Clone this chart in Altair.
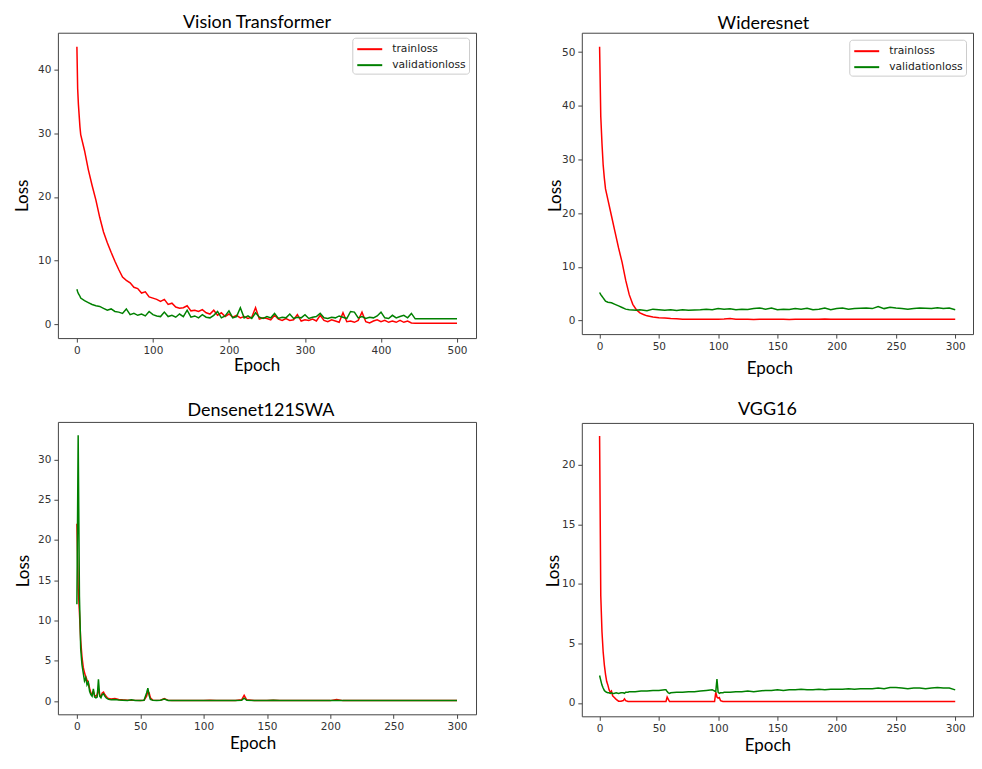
import altair as alt
import pandas as pd

SERIES = ["trainloss", "validationloss"]
COLORS = ["#ff0000", "#008000"]

# ---------------- Vision Transformer ----------------
VIT_EPOCHS = [0, 1, 2, 4] + list(range(5, 501, 5))
VIT_TRAIN = [
    43.6, 37.0, 34.5, 31.0,
    29.8, 27.3, 24.3, 21.8, 19.5, 16.8, 14.5, 12.8, 11.3, 9.9,
    8.6, 7.4, 6.9, 6.5, 5.8, 5.6, 4.9, 5.1, 4.3, 4.1,
    3.9, 3.6, 3.9, 3.1, 3.3, 2.7, 2.5, 2.6, 2.9, 2.1,
    2.2, 2.0, 2.3, 1.8, 1.6, 2.2, 1.4, 1.8, 1.2, 1.6,
    1.1, 1.4, 1.0, 1.2, 0.9, 1.1, 2.6, 0.8, 1.0, 0.9,
    0.7, 1.4, 0.8, 0.6, 0.9, 0.6, 0.7, 1.5, 0.5, 0.7,
    0.6, 0.8, 0.5, 1.4, 0.6, 0.4, 0.7, 0.5, 0.3, 1.8,
    0.4, 0.5, 0.3, 0.6, 1.9, 0.4, 0.2, 0.5, 0.7, 0.4,
    0.6, 0.3, 0.5, 0.3, 0.6, 0.3, 0.5, 0.2, 0.15, 0.15,
    0.15, 0.15, 0.15, 0.15, 0.15, 0.15, 0.15, 0.15, 0.15, 0.15,
]
VIT_VAL = [
    5.5, 5.1, 4.8, 4.4,
    4.1, 3.7, 3.4, 3.1, 2.9, 2.8, 2.5, 2.2, 2.4, 2.0,
    1.9, 1.7, 2.4, 1.5, 1.7, 1.4, 1.6, 1.3, 2.0, 1.5,
    1.3, 1.2, 1.9, 1.2, 1.4, 1.1, 1.6, 1.2, 2.2, 1.1,
    1.3, 1.0, 1.5, 1.1, 1.0, 1.4, 2.0, 1.0, 1.3, 2.1,
    1.0, 1.2, 2.6, 1.0, 1.3, 0.9, 1.8, 1.1, 0.9, 1.2,
    1.0, 1.7, 0.9, 1.1, 1.0, 1.6, 0.9, 1.1, 1.0, 1.5,
    0.9, 1.1, 1.2, 1.7, 1.0, 0.9, 1.1, 1.0, 1.3, 1.1,
    0.9, 2.0, 1.9, 1.0, 1.2, 0.9, 1.1, 1.0, 1.3, 1.9,
    1.0, 0.9, 1.4, 1.0, 1.2, 1.4, 1.0, 1.7, 0.85, 0.85,
    0.85, 0.85, 0.85, 0.85, 0.85, 0.85, 0.85, 0.85, 0.85, 0.85,
]

# ---------------- Wideresnet ----------------
WRN_EPOCHS = [0, 1, 2, 3, 4, 5, 7, 10, 13, 16, 19, 22, 25, 28, 31, 34, 37, 40] + list(range(45, 301, 5))
WRN_TRAIN = [
    51.0, 38.0, 33.0, 29.0, 26.5, 24.5, 22.5, 19.5, 16.5, 13.5, 10.8, 7.5, 4.8, 3.0, 2.0, 1.4, 1.1, 0.85,
    0.65, 0.5, 0.45, 0.35, 0.3, 0.22, 0.2, 0.2, 0.2, 0.2,
    0.2, 0.22, 0.25, 0.35, 0.22, 0.2, 0.2, 0.18, 0.2, 0.2,
    0.2, 0.22, 0.2, 0.18, 0.2, 0.2, 0.2, 0.2, 0.2, 0.25,
    0.22, 0.2, 0.2, 0.2, 0.2, 0.22, 0.2, 0.2, 0.2, 0.22,
    0.2, 0.2, 0.2, 0.22, 0.2, 0.2, 0.2, 0.2, 0.2, 0.2,
    0.2, 0.2,
]
WRN_VAL = [
    5.2, 4.8, 4.5, 4.2, 3.9, 3.6, 3.4, 3.3, 3.0, 2.7, 2.4, 2.1, 2.0, 1.95, 1.9, 2.0, 1.9, 1.8,
    2.1, 2.0, 1.9, 2.0, 1.85, 2.0, 1.9, 1.95, 2.0, 2.1,
    2.0, 2.2, 2.1, 2.15, 2.0, 2.1, 2.05, 2.2, 2.3, 2.1,
    2.3, 2.0, 2.1, 2.05, 2.2, 2.1, 2.25, 2.0, 2.1, 2.3,
    2.0, 2.2, 2.3, 2.1, 2.2, 2.25, 2.3, 2.2, 2.6, 2.2,
    2.45, 2.3, 2.2, 2.1, 2.2, 2.3, 2.25, 2.2, 2.35, 2.2,
    2.3, 2.0,
]

# ---------------- Densenet121SWA ----------------
DN_EPOCHS = (list(range(0, 26))
             + [27, 30, 33, 36, 40, 43, 46, 50, 53, 55, 56, 57, 58, 60, 63, 66, 69, 72, 75]
             + list(range(80, 126, 5)) + [130, 132, 134] + list(range(140, 301, 5)))
DN_TRAIN = [
    22.0, 14.0, 11.0, 7.5, 5.5, 4.2, 3.5, 3.0, 2.6, 2.3, 1.6, 1.0, 0.9, 1.2, 0.7, 0.6, 0.8, 1.5, 0.7, 0.6,
    1.0, 1.1, 0.8, 0.6, 0.4, 0.3,
    0.25, 0.3, 0.2, 0.15, 0.1, 0.1, 0.08, 0.07, 0.1, 0.6, 1.2, 1.0, 0.4, 0.1, 0.08, 0.1, 0.3, 0.08, 0.05,
    0.05, 0.05, 0.05, 0.05, 0.06, 0.1, 0.05, 0.05, 0.05, 0.05,
    0.15, 0.7, 0.15,
    0.05, 0.05, 0.05, 0.1, 0.05, 0.05, 0.05, 0.05, 0.05, 0.05, 0.05, 0.05, 0.05, 0.2, 0.05, 0.05, 0.05,
    0.05, 0.05, 0.05, 0.05, 0.05, 0.08, 0.05, 0.05, 0.05, 0.05, 0.05, 0.05, 0.05, 0.05, 0.05, 0.05,
]
DN_VAL = [
    12.0, 33.0, 13.0, 6.5, 4.5, 3.5, 2.5, 2.9, 2.0, 2.3, 1.2, 0.8, 0.6, 1.5, 0.5, 0.4, 0.5, 2.7, 0.6, 0.4,
    0.8, 0.9, 0.6, 0.4, 0.3, 0.2,
    0.15, 0.2, 0.12, 0.1, 0.08, 0.15, 0.06, 0.05, 0.1, 1.0, 1.6, 0.7, 0.2, 0.08, 0.06, 0.1, 0.25, 0.06, 0.05,
    0.05, 0.05, 0.05, 0.05, 0.05, 0.05, 0.05, 0.05, 0.05, 0.05,
    0.1, 0.35, 0.1,
    0.05, 0.05, 0.05, 0.1, 0.05, 0.05, 0.05, 0.05, 0.05, 0.05, 0.05, 0.05, 0.05, 0.05, 0.05, 0.05, 0.05,
    0.05, 0.05, 0.05, 0.05, 0.05, 0.05, 0.05, 0.05, 0.05, 0.05, 0.05, 0.05, 0.05, 0.05, 0.05, 0.05,
]

# ---------------- VGG16 ----------------
VGG_EPOCHS = (list(range(0, 13)) + [14, 16, 18, 20, 21, 22, 24] + list(range(25, 56, 5))
              + [56, 57, 58, 59] + list(range(60, 96, 5)) + [96, 97, 98, 99, 100, 101, 102, 104]
              + list(range(105, 301, 5)))
VGG_TRAIN = (
    [22.4, 9.0, 6.0, 4.3, 3.2, 2.4, 1.8, 1.5, 1.1, 0.9, 1.0, 0.6, 0.5]
    + [0.3, 0.15, 0.15, 0.2, 0.35, 0.2, 0.12]
    + [0.12, 0.12, 0.12, 0.12, 0.12, 0.12, 0.12]
    + [0.12, 0.5, 0.3, 0.12]
    + [0.12, 0.12, 0.12, 0.12, 0.12, 0.12, 0.12, 0.12]
    + [0.12, 0.12, 0.9, 0.5, 0.4, 0.45, 0.2, 0.12]
    + [0.12] * 40
)
VGG_VAL = (
    [2.3, 1.9, 1.5, 1.25, 1.05, 0.95, 0.9, 0.85, 0.85, 0.8, 0.85, 0.8, 0.8]
    + [0.85, 0.8, 0.85, 0.85, 0.8, 0.9, 0.9]
    + [0.95, 0.95, 1.0, 1.0, 1.05, 1.05, 1.1]
    + [1.1, 0.95, 0.85, 0.8]
    + [0.85, 0.9, 0.9, 0.95, 0.95, 1.0, 1.05, 1.1]
    + [1.05, 1.0, 0.95, 2.0, 0.9, 0.8, 0.85, 0.85]
    + [0.9, 0.9, 0.95, 0.95, 1.0, 0.95, 1.0, 1.05, 1.05, 1.1,
       1.05, 1.1, 1.1, 1.15, 1.1, 1.1, 1.15, 1.1, 1.15, 1.15,
       1.15, 1.2, 1.15, 1.2, 1.2, 1.2, 1.25, 1.2, 1.3, 1.3,
       1.25, 1.2, 1.25, 1.25, 1.2, 1.25, 1.3, 1.25, 1.25, 1.1]
)


def long_df(epochs, train, val):
    rows = [{"epoch": e, "loss": v, "series": "trainloss"} for e, v in zip(epochs, train)]
    rows += [{"epoch": e, "loss": v, "series": "validationloss"} for e, v in zip(epochs, val)]
    return pd.DataFrame(rows)


def panel(title, df, width, height, xdom, ydom, xticks, yticks,
          title_dx, title_offset, xt_x, xt_y, yt_x, yt_y, leg_x, leg_y):
    color = alt.Color(
        "series:N",
        scale=alt.Scale(domain=SERIES, range=COLORS),
        legend=alt.Legend(
            title=None, orient="none", legendX=leg_x, legendY=leg_y,
            symbolType="M-1.667,0L1.667,0", symbolSize=225, symbolStrokeWidth=2,
            symbolOffset=6, labelOffset=14,
            labelFont="DejaVu Sans", labelFontSize=10.75, labelColor="#222",
            strokeColor="#cccccc", fillColor="white", cornerRadius=3,
            padding=3, rowPadding=2,
        ),
    )
    x = alt.X("epoch:Q", scale=alt.Scale(domain=xdom, nice=False, zero=False),
              axis=alt.Axis(title="Epoch", values=xticks, titleX=xt_x, titleY=xt_y,
                            titleAlign="center", titleBaseline="alphabetic"))
    y = alt.Y("loss:Q", scale=alt.Scale(domain=ydom, nice=False, zero=False),
              axis=alt.Axis(title="Loss", values=yticks, titleX=yt_x, titleY=yt_y,
                            titleAngle=270, titleAlign="center", titleBaseline="alphabetic"))
    base = alt.Chart(df)
    tr = base.transform_filter(alt.datum.series == "trainloss").mark_line(strokeWidth=1.5).encode(
        x=x, y=y, color=color)
    va = base.transform_filter(alt.datum.series == "validationloss").mark_line(strokeWidth=1.5).encode(
        x=x, y=y, color=color)
    return alt.layer(tr, va).properties(
        width=width, height=height,
        title=alt.TitleParams(text=title, font="Lato", fontSize=18, fontWeight="normal",
                              color="#000", anchor="middle", dx=title_dx, offset=title_offset),
    )


p1 = panel("Vision Transformer", long_df(VIT_EPOCHS, VIT_TRAIN, VIT_VAL), 419, 306,
           [-25, 525], [-2.18, 45.8], [0, 100, 200, 300, 400, 500], [0, 10, 20, 30, 40],
           -10, 1, 199, 32, -30, 163, 295, 5)
p3 = panel("Densenet121SWA", long_df(DN_EPOCHS, DN_TRAIN, DN_VAL), 419, 293,
           [-15, 315], [-1.65, 34.65], [0, 50, 100, 150, 200, 250, 300], [0, 5, 10, 15, 20, 25, 30],
           -6, 2, 195, 34, -29, 149, 295, 6)
p2 = panel("Wideresnet", long_df(WRN_EPOCHS, WRN_TRAIN, WRN_VAL), 392, 302,
           [-15, 315], [-2.55, 53.6], [0, 50, 100, 150, 200, 250, 300], [0, 10, 20, 30, 40, 50],
           -14, 0, 188, 39, -21, 163, 268, 7)
p4 = panel("VGG16", long_df(VGG_EPOCHS, VGG_TRAIN, VGG_VAL), 392, 294,
           [-15, 315], [-1.12, 23.5], [0, 50, 100, 150, 200, 250, 300], [0, 5, 10, 15, 20],
           -10, 4, 186, 34, -23, 148, 267, 7)

col1 = alt.vconcat(p1, p3, spacing=27)
col2 = alt.vconcat(p2, p4, spacing=23)

chart = alt.hconcat(col1, col2, spacing=67).resolve_scale(
    color="independent", x="independent", y="independent"
).resolve_legend(color="independent").properties(
    padding={"left": 5, "top": 4, "right": 0, "bottom": 0},
    background="white",
).configure_view(
    stroke="#444", strokeWidth=1
).configure_axis(
    domain=False, grid=False, ticks=True, tickSize=4, tickColor="#444", tickWidth=1,
    labelFont="DejaVu Sans", labelFontSize=10.5, labelColor="#333", labelPadding=3,
    titleFont="Lato", titleFontSize=17, titleFontWeight="normal", titleColor="#000",
)

chart.save("out.html", embed_options={"renderer": "svg", "actions": False})
